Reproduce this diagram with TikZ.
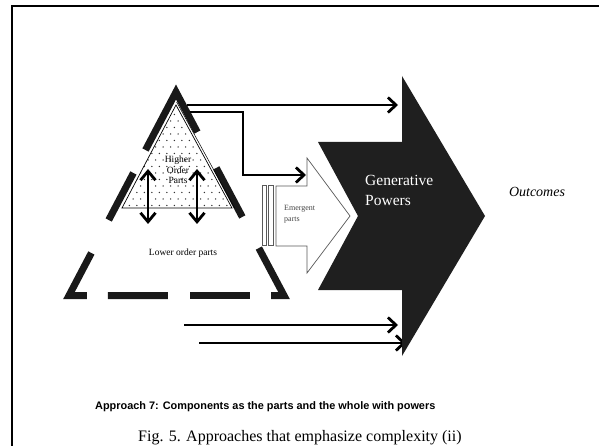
\documentclass[tikz,border=0pt]{standalone}
\usepackage{fontspec}
\setmainfont{Liberation Serif}
\newfontfamily\sansfont{Liberation Sans}
\usetikzlibrary{arrows.meta,calc}
\begin{document}
\begin{tikzpicture}[x=1pt,y=-1pt,
  tline/.style={line width=7pt, line cap=butt, line join=miter, draw=black!90},
  arr/.style={line width=2.8pt, line join=miter, -{Straight Barb[length=8pt,width=15pt,line width=2.8pt]}},
  darr/.style={line width=2.8pt, {Straight Barb[length=9pt,width=15pt,line width=2.8pt]}-{Straight Barb[length=9pt,width=15pt,line width=2.8pt]}},
  lbl/.style={font=\fontsize{9.5}{10.5}\selectfont, inner sep=0pt},
]
\useasboundingbox (0,0) rectangle (599,446);
\clip (0,0) rectangle (599,446);
% frame
\draw[line width=2.5pt] (12,446) -- (12,6) -- (599,6);
% big dashed triangle
\coordinate (A) at (176,92);
\coordinate (BL) at (69,295.5);
\coordinate (BR) at (284,295.5);
\draw[tline] ($(A)!0.285!(BL)$) -- (A) -- ($(A)!0.197!(BR)$);
\draw[tline] ($(A)!0.398!(BL)$) -- ($(A)!0.629!(BL)$);
\draw[tline] ($(A)!0.791!(BL)$) -- (BL) -- ($(BL)!0.0837!(BR)$);
\draw[tline] ($(BL)!0.181!(BR)$) -- ($(BL)!0.460!(BR)$);
\draw[tline] ($(BL)!0.563!(BR)$) -- ($(BL)!0.842!(BR)$);
\draw[tline] ($(BL)!0.940!(BR)$) -- (BR) -- ($(A)!0.767!(BR)$);
\draw[tline] ($(A)!0.373!(BR)$) -- ($(A)!0.614!(BR)$);
% inner dotted triangle
\coordinate (ia) at (176,105);
\coordinate (ibl) at (122,208);
\coordinate (ibr) at (232,208);
\begin{scope}
  \clip (ia) -- (ibl) -- (ibr) -- cycle;
  \foreach \j in {0,...,15} {
    \foreach \i in {0,...,15} {
      \fill[black!80] ({118+\i*7.5+mod(\j,2)*3.75},{108+\j*6.5}) circle (0.75pt);
    }
  }
\end{scope}
\draw[line width=0.7pt] (ia) -- (ibl) -- (ibr) -- cycle;
\draw[line width=0.5pt] (176.6,102) -- (234.6,208);
\node[lbl, align=center] (hop) at (178,170) {Higher\\Order\\Parts};
\coordinate (d1t) at (148,169); \coordinate (d1b) at (148,224);
\coordinate (d2t) at (197,169); \coordinate (d2b) at (197,224);
\draw[darr] (d1t) -- (d1b);
\draw[darr] (d2t) -- (d2b);
\node[lbl] (lop) at (183,253) {Lower order parts};
% arrows
\coordinate (l1s) at (187,105); \coordinate (l1e) at (398,105);
\coordinate (l2s) at (190,112); \coordinate (l2k) at (243,112);
\coordinate (l2m) at (243,175); \coordinate (l2e) at (306,175);
\coordinate (l3s) at (184,325); \coordinate (l3e) at (398,325);
\coordinate (l4s) at (199,343); \coordinate (l4e) at (406,343);
\draw[arr] (l1s) -- (l1e);
\draw[arr] (l2s) -- (l2k) -- (l2m) -- (l2e);
\draw[arr] (l3s) -- (l3e);
\draw[arr] (l4s) -- (l4e);
% emergent arrow
\draw[gray!70!black, line width=0.7pt] (262,185) rectangle (266,245);
\draw[gray!70!black, line width=0.7pt] (268,185) rectangle (273,245);
\draw[gray!70!black, line width=0.7pt, fill=white] (276,186) -- (307,186) -- (307,158) -- (350,216) -- (307,273) -- (307,246) -- (276,246) -- cycle;
\node[anchor=west, inner sep=0pt, align=left, text=gray!55!black, font=\fontsize{8}{11}\selectfont] (em) at (284,214) {Emergent\\parts};
% big black arrow
\fill[black!88] (318,142) -- (402,142) -- (402,76) -- (485,216) -- (402,356) -- (402,290) -- (318,290) -- (358,216) -- cycle;
\node[anchor=west, inner sep=0pt, align=left, text=white, font=\fontsize{15.5}{20}\selectfont] (gp) at (365,190) {Generative\\Powers};
\node[inner sep=0pt, font=\itshape\fontsize{14}{16}\selectfont] (out) at (537,192) {Outcomes};
% captions
\node[anchor=base west, inner sep=0pt, font=\sansfont\bfseries\fontsize{10.9}{12}\selectfont] (ap) at (95,409) {Approach 7: Components as the parts and the whole with powers};
\node[anchor=base west, inner sep=0pt, font=\fontsize{16}{18}\selectfont] (fig) at (138,441) {Fig. 5. Approaches that emphasize complexity (ii)};
\end{tikzpicture}
\end{document}
